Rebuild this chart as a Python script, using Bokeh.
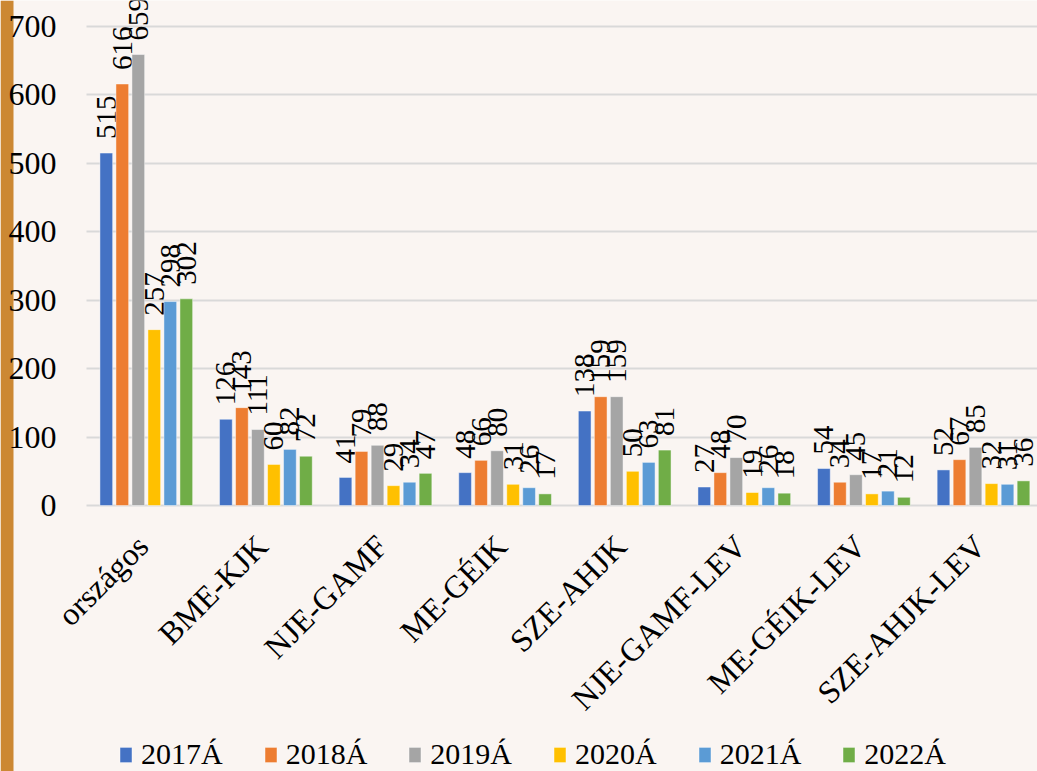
import math
from bokeh.plotting import figure
from bokeh.models import (ColumnDataSource, Range1d, FixedTicker, Legend, LegendItem,
                          LabelSet, LinearAxis)
from bokeh.core.properties import value
from bokeh.embed import file_html
from bokeh.resources import INLINE

categories = ["országos", "BME-KJK", "NJE-GAMF", "ME-GÉIK", "SZE-AHJK",
              "NJE-GAMF-LEV", "ME-GÉIK-LEV", "SZE-AHJK-LEV"]
series = ["2017Á", "2018Á", "2019Á", "2020Á", "2021Á", "2022Á"]
v2017 = [515, 126, 41, 48, 138, 27, 54, 52]
v2018 = [616, 143, 79, 66, 159, 48, 34, 67]
v2019 = [659, 111, 88, 80, 159, 70, 45, 85]
v2020 = [257, 60, 29, 31, 50, 19, 17, 32]
v2021 = [298, 82, 34, 26, 63, 26, 21, 31]
v2022 = [302, 72, 47, 17, 81, 18, 12, 36]
y_ticks = [0, 100, 200, 300, 400, 500, 600, 700]
colors = ["#4472C4", "#ED7D31", "#A5A5A5", "#FFC000", "#5B9BD5", "#70AD47"]
values = [v2017, v2018, v2019, v2020, v2021, v2022]

BG = "#FAF5F2"
STRIP = "#CC8833"
FONT = "Liberation Serif"

W, H = 1037, 771
STRIP_W = 13
PLOT_L = 86        # where the category area starts (px from figure left)
ZERO_PX = 505      # y=0 position (px from top of figure)
TOP_PX = 26        # y=700 position
PX_PER_UNIT = (ZERO_PX - TOP_PX) / 700.0
CAT_PX = 119.6     # width of one category band in px

y_end = 700 + TOP_PX / PX_PER_UNIT
y_start = -(H - ZERO_PX) / PX_PER_UNIT
x_start = -PLOT_L / CAT_PX
x_end = (W - PLOT_L) / CAT_PX

p = figure(width=W, height=H, output_backend="svg", toolbar_location=None,
           x_range=Range1d(x_start, x_end), y_range=Range1d(y_start, y_end),
           x_axis_location=None, y_axis_location=None,
           min_border_left=0, min_border_right=0, min_border_top=0,
           min_border_bottom=0, background_fill_color=BG,
           border_fill_color=BG, outline_line_color=None)

# thin decorative strip on the left edge
p.quad(left=[x_start], right=[x_start + STRIP_W / CAT_PX], bottom=[y_start], top=[y_end],
       fill_color=STRIP, line_color=None)

pitch = 16 / CAT_PX
bw = 12.7 / CAT_PX
lab_gap = 14 / PX_PER_UNIT
items = []
for k, (name, vals, col) in enumerate(zip(series, values, colors)):
    xs = [i + 0.5 + (k - 2.5) * pitch for i in range(len(categories))]
    src = ColumnDataSource(dict(x=xs, top=vals, ly=[v + lab_gap for v in vals],
                                lab=[str(v) for v in vals]))
    r = p.vbar(x="x", top="top", bottom=0, width=bw, source=src,
               fill_color=col, line_color="white", line_alpha=0.45, line_width=1)
    p.text(x="x", y="ly", text="lab", source=src, angle=math.pi / 2,
           text_align="left", text_baseline="middle",
           text_font=value(FONT), text_font_size="29px", text_color="#000000")
    items.append(LegendItem(label=name, renderers=[r]))

# category labels (rotated 45 degrees), placed under the zero line
cat_src = ColumnDataSource(dict(
    x=[i + 0.5 + 4 / CAT_PX for i in range(len(categories))],
    y=[-43 / PX_PER_UNIT] * len(categories),
    t=categories))
p.add_layout(LabelSet(x="x", y="y", text="t", source=cat_src, angle=math.pi / 4,
                      text_align="right", text_baseline="alphabetic",
                      text_font=value(FONT), text_font_size=value("32px"),
                      text_color="#000000"))

# y axis, drawn at the left edge of the category area
yax = LinearAxis(fixed_location=0, ticker=FixedTicker(ticks=y_ticks))
yax.axis_line_color = None
yax.major_tick_line_color = None
yax.minor_tick_line_color = None
yax.major_tick_out = 0
yax.major_tick_in = 0
yax.major_label_standoff = 30
yax.major_label_text_font = FONT
yax.major_label_text_font_size = "32px"
yax.major_label_text_color = "#000000"
p.add_layout(yax, "left")

p.ygrid.ticker = FixedTicker(ticks=y_ticks)
p.ygrid.grid_line_color = "#D9D9D9"
p.ygrid.grid_line_width = 2
if "cross_bounds" in p.ygrid.properties():
    p.ygrid.cross_bounds = (0, x_end)
p.xgrid.grid_line_color = None

legend = Legend(items=items, orientation="horizontal", location=(118, 0),
                label_text_font=FONT, label_text_font_size="30px",
                label_text_color="#000000", glyph_width=15, glyph_height=19,
                label_standoff=8, spacing=40, padding=0, margin=0,
                border_line_color=None, background_fill_alpha=0)
p.add_layout(legend, "center")

open("out.html", "w").write(file_html(p, INLINE))
